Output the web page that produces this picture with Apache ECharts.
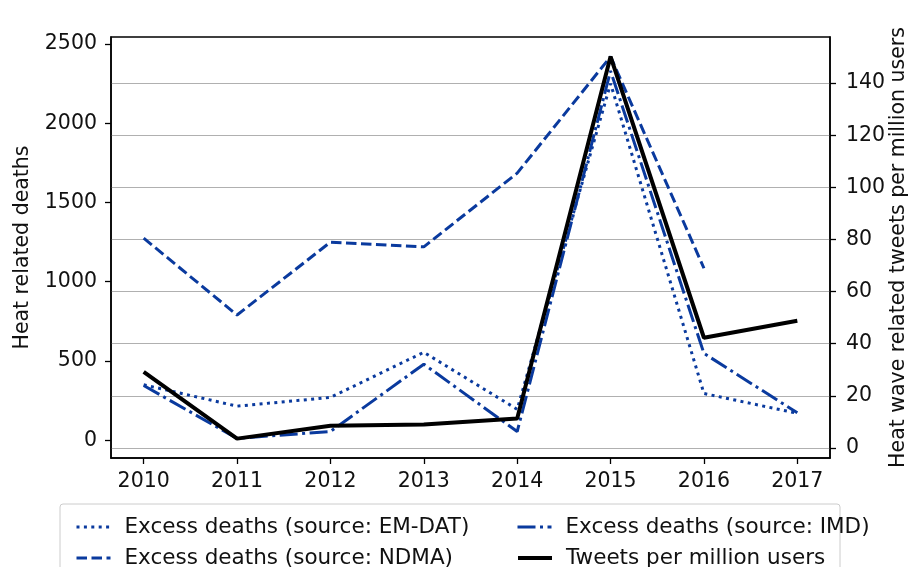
<!DOCTYPE html>
<html>
<head>
<meta charset="utf-8">
<script src="https://cdn.jsdelivr.net/npm/echarts@6/dist/echarts.min.js"></script>
<style>
  html, body { margin: 0; padding: 0; background: #fff; }
  #chart { width: 914px; height: 567px; }
</style>
</head>
<body>
<div id="chart"></div>
<script>
// 数据
var years = [2010, 2011, 2012, 2013, 2014, 2015, 2016, 2017];
var emdat = [350, 215, 270, 555, 195, 2250, 295, 170];
var ndma = [1275, 790, 1250, 1220, 1685, 2420, 1085];
var imd = [345, 12, 55, 480, 55, 2330, 548, 173];
var tweets = [29.2, 3.6, 8.5, 9.0, 11.3, 150.2, 42.3, 48.8];
var leftTicks = [0, 500, 1000, 1500, 2000, 2500];
var rightTicks = [0, 20, 40, 60, 80, 100, 120, 140];
var names = [
    'Excess deaths (source: EM-DAT)',
    'Excess deaths (source: NDMA)',
    'Excess deaths (source: IMD)',
    'Tweets per million users'
];

function pairs(vals) {
    var out = [];
    for (var i = 0; i < vals.length; i++) {
        out.push([years[i], vals[i]]);
    }
    return out;
}

var blue = '#0a3a9e';
var font = 'DejaVu Sans';
var fs = 20.5;

// 图例 一项一个, 两列两行
function legendItem(name, left, top, w) {
    return {
        left: left,
        top: top,
        itemWidth: 34,
        itemHeight: 14,
        itemStyle: { opacity: 0 },
        lineStyle: { width: w },
        textStyle: {
            fontFamily: font,
            fontSize: 21.5,
            lineHeight: 24,
            color: '#111',
            padding: [0, 0, 0, 9]
        },
        data: [name]
    };
}

var myChart = echarts.init(document.getElementById('chart'));
var option = {
    animation: false,
    grid: {
        left: 111,
        right: 84,
        top: 37,
        bottom: 109,
        outerBoundsMode: 'none',
        containLabel: false,
        show: true,
        borderColor: '#000',
        borderWidth: 1.5
    },
    legend: [
        legendItem(names[0], 70, 510, 3),
        legendItem(names[1], 70, 541, 3),
        legendItem(names[2], 511, 510, 3),
        legendItem(names[3], 511, 541, 4)
    ],
    graphic: [
        {
            type: 'rect',
            shape: { x: 60, y: 504, width: 780, height: 80, r: 3 },
            style: { fill: 'none', stroke: '#cccccc', lineWidth: 1 },
            z: -1
        }
    ],
    xAxis: {
        type: 'value',
        min: 2009.65,
        max: 2017.35,
        splitLine: { show: false },
        axisLine: { onZero: false, lineStyle: { color: '#000', width: 1.5 } },
        axisTick: { customValues: years, length: 6, lineStyle: { color: '#000', width: 1.3 } },
        axisLabel: {
            customValues: years,
            margin: 13,
            color: '#111',
            fontFamily: font,
            fontSize: fs,
            formatter: function (v) { return String(v); }
        }
    },
    yAxis: [
        {
            type: 'value',
            min: -112,
            max: 2544,
            name: 'Heat related deaths',
            nameLocation: 'middle',
            nameGap: 78,
            nameRotate: 90,
            nameMoveOverlap: false,
            nameTextStyle: { fontFamily: font, fontSize: fs, color: '#111' },
            splitLine: { show: false },
            axisLine: { show: true, onZero: false, lineStyle: { color: '#000', width: 1.5 } },
            axisTick: { customValues: leftTicks, length: 6, lineStyle: { color: '#000', width: 1.3 } },
            axisLabel: {
                customValues: leftTicks,
                margin: 14,
                color: '#111',
                fontFamily: font,
                fontSize: fs,
                formatter: function (v) { return String(v); }
            }
        },
        {
            type: 'value',
            min: -3.84,
            max: 157.7,
            splitNumber: 8,
            position: 'right',
            name: 'Heat wave related tweets per million users',
            nameLocation: 'middle',
            nameGap: 58,
            nameRotate: 90,
            nameMoveOverlap: false,
            nameTextStyle: { fontFamily: font, fontSize: fs, color: '#111' },
            splitLine: { show: true, lineStyle: { color: '#b0b0b0', width: 1.2 } },
            axisLine: { show: true, onZero: false, lineStyle: { color: '#000', width: 1.5 } },
            axisTick: { customValues: rightTicks, length: 6, lineStyle: { color: '#000', width: 1.3 } },
            axisLabel: {
                customValues: rightTicks,
                margin: 16,
                color: '#111',
                fontFamily: font,
                fontSize: fs,
                formatter: function (v) { return String(v); }
            }
        }
    ],
    series: [
        {
            name: names[0],
            type: 'line',
            yAxisIndex: 0,
            symbol: 'none',
            data: pairs(emdat),
            lineStyle: { color: blue, width: 3, type: [3, 4.4], cap: 'butt' },
            itemStyle: { color: blue }
        },
        {
            name: names[1],
            type: 'line',
            yAxisIndex: 0,
            symbol: 'none',
            data: pairs(ndma),
            lineStyle: { color: blue, width: 3, type: [10.5, 4.5] },
            itemStyle: { color: blue }
        },
        {
            name: names[2],
            type: 'line',
            yAxisIndex: 0,
            symbol: 'none',
            data: pairs(imd),
            lineStyle: { color: blue, width: 3, type: [18, 4.5, 3, 4.5] },
            itemStyle: { color: blue }
        },
        {
            name: names[3],
            type: 'line',
            yAxisIndex: 1,
            symbol: 'none',
            data: pairs(tweets),
            lineStyle: { color: '#000', width: 4 },
            itemStyle: { color: '#000' }
        }
    ]
};
myChart.setOption(option);
</script>
</body>
</html>
